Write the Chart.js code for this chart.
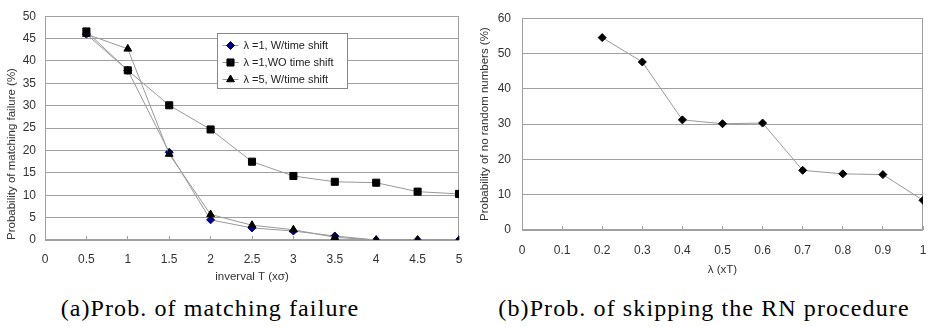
<!DOCTYPE html>
<html>
<head>
<meta charset="utf-8">
<script src="https://cdn.jsdelivr.net/npm/chart.js@4.4.1/dist/chart.umd.min.js"></script>
<style>
  body { margin: 0; background: #fff; width: 929px; height: 327px; position: relative; overflow: hidden; }
  .box { position: absolute; top: 0; height: 285px; }
  #boxA { left: 0; width: 465px; }
  #boxB { left: 465px; width: 464px; }
  .cap { position: absolute; top: 296px; width: 440px; text-align: center; white-space: nowrap;
         font-family: 'Liberation Serif', 'DejaVu Serif', serif; font-size: 24px; line-height: 24px;
         letter-spacing: 1.1px; color: #000; }
</style>
</head>
<body>
<div class="box" id="boxA"><canvas id="chartA"></canvas></div>
<div class="box" id="boxB"><canvas id="chartB"></canvas></div>
<div class="cap" style="left:-10px">(a)Prob. of matching failure</div>
<div class="cap" style="left:484px">(b)Prob. of skipping the RN procedure</div>
<script>
// (a) matching failure vs interval T
const intervalT = [0.5, 1, 1.5, 2, 2.5, 3, 3.5, 4, 4.5, 5];
const failLambda1W = [46.0, 37.9, 19.6, 4.5, 2.7, 2.0, 0.9, 0, 0, 0];
const failLambda1WO = [46.6, 37.9, 30.1, 24.7, 17.5, 14.3, 13.0, 12.8, 10.8, 10.3];
const failLambda5W = [46.0, 42.7, 19.2, 5.7, 3.3, 2.3, 0.6, 0, 0, 0];
const seriesLabelsA = ['\u03bb =1, W/time shift', '\u03bb =1,WO time shift', '\u03bb =5, W/time shift'];
const xTicksA = [0, 0.5, 1, 1.5, 2, 2.5, 3, 3.5, 4, 4.5, 5];
const yTicksA = [0, 5, 10, 15, 20, 25, 30, 35, 40, 45, 50];

// (b) skipping the RN procedure vs lambda
const lambdaT = [0.2, 0.3, 0.4, 0.5, 0.6, 0.7, 0.8, 0.9, 1];
const noRandom = [54.5, 47.6, 31.2, 30.1, 30.3, 16.9, 15.9, 15.7, 8.4];
const xTicksB = [0, 0.1, 0.2, 0.3, 0.4, 0.5, 0.6, 0.7, 0.8, 0.9, 1];
const yTicksB = [0, 10, 20, 30, 40, 50, 60];

const tickFont = { family: "'Liberation Sans', Arial, sans-serif", size: 12 };
const titleFont = { family: "'Liberation Sans', Arial, sans-serif", size: 11.5 };
const textColor = '#333';
const gridColor = '#a0a0a0';
const lineColor = '#999';

const toPoints = (xs, ys) => xs.map((x, i) => ({ x: x, y: ys[i] }));

// grey frame round the plot area
const plotFrame = {
    id: 'plotFrame',
    beforeDatasetsDraw(chart) {
        const { ctx, chartArea: a } = chart;
        ctx.save();
        ctx.strokeStyle = gridColor;
        ctx.lineWidth = 1;
        ctx.strokeRect(Math.round(a.left) + 0.5, Math.round(a.top) + 0.5,
            Math.round(a.width) - 1, Math.round(a.height) - 1);
        ctx.restore();
    }
};

// boxed legend inside the plot, like the spreadsheet one
const boxLegend = {
    id: 'boxLegend',
    afterDatasetsDraw(chart, args, opts) {
        const { ctx, chartArea } = chart;
        const x = Math.round(chartArea.left + opts.dx) + 0.5;
        const y = Math.round(chartArea.top + opts.dy) + 0.5;
        ctx.save();
        ctx.fillStyle = '#fff';
        ctx.fillRect(x, y, opts.w, opts.h);
        ctx.strokeStyle = '#888';
        ctx.lineWidth = 1;
        ctx.strokeRect(x, y, opts.w, opts.h);
        ctx.font = "11px 'Liberation Sans', Arial, sans-serif";
        ctx.textBaseline = 'middle';
        chart.data.datasets.forEach((ds, i) => {
            const cy = y + opts.rowTop + i * opts.rowGap;
            ctx.strokeStyle = ds.borderColor;
            ctx.beginPath();
            ctx.moveTo(x + 5, cy);
            ctx.lineTo(x + 21, cy);
            ctx.stroke();
            ctx.fillStyle = ds.pointBackgroundColor;
            ctx.strokeStyle = ds.pointBorderColor;
            Chart.helpers.drawPoint(ctx, { pointStyle: ds.pointStyle, radius: ds.pointRadius, borderWidth: 1, rotation: 0 }, x + 13, cy);
            ctx.fillStyle = '#222';
            ctx.fillText(ds.label, x + 26, cy);
        });
        ctx.restore();
    }
};

function lineSet(label, data, style, radius, color, order) {
    return {
        label: label,
        data: data,
        borderColor: lineColor,
        borderWidth: 1,
        pointStyle: style,
        pointRadius: radius,
        pointBackgroundColor: color,
        pointBorderColor: color,
        pointBorderWidth: 1,
        tension: 0,
        order: order
    };
}

function axes(xTicks, yTicks, opt) {
    return {
        x: {
            type: 'linear', min: xTicks[0], max: xTicks[xTicks.length - 1],
            afterBuildTicks: s => { s.ticks = xTicks.map(v => ({ value: v })); },
            // fixed band height; drop the label overhang so the plot keeps its width
            afterFit: s => { s.height = opt.xHeight; s.paddingLeft = 0; s.paddingRight = 0; },
            grid: { drawOnChartArea: false, color: gridColor, tickLength: -4 },
            border: { display: false },
            ticks: { autoSkip: false, maxRotation: 0, padding: opt.xPad, color: textColor, font: tickFont, callback: v => String(v) },
            title: { display: true, text: opt.xTitle, color: textColor, font: titleFont, padding: { top: 0, bottom: opt.xTitlePad } }
        },
        y: {
            type: 'linear', min: yTicks[0], max: yTicks[yTicks.length - 1],
            afterBuildTicks: s => { s.ticks = yTicks.map(v => ({ value: v })); },
            afterFit: s => { s.width = opt.yWidth; },
            grid: { color: gridColor, drawTicks: false },
            border: { display: false },
            ticks: { padding: opt.yPad, color: textColor, font: tickFont, callback: v => String(v) },
            title: { display: true, text: opt.yTitle, align: opt.yAlign, color: textColor,
                     font: titleFont, padding: { top: opt.yTitlePad, bottom: 0 } }
        }
    };
}

new Chart(document.getElementById('chartA'), {
    type: 'line',
    data: {
        datasets: [
            lineSet(seriesLabelsA[0], toPoints(intervalT, failLambda1W), 'rectRot', 4, '#000080', 2),
            lineSet(seriesLabelsA[1], toPoints(intervalT, failLambda1WO), 'rect', 5, '#000', 1),
            lineSet(seriesLabelsA[2], toPoints(intervalT, failLambda5W), 'triangle', 4.5, '#000', 0)
        ]
    },
    options: {
        responsive: true,
        maintainAspectRatio: false,
        animation: false,
        layout: { padding: { top: 8, right: 6, left: 0, bottom: 0 } },
        plugins: {
            legend: { display: false },
            tooltip: { enabled: false },
            boxLegend: { dx: 172, dy: 17, w: 130, h: 55, rowTop: 12, rowGap: 17 }
        },
        scales: axes(xTicksA, yTicksA, {
            xHeight: 45, xPad: 16, xTitle: 'inverval T (x\u03c3)', xTitlePad: 1,
            yWidth: 45, yPad: 9, yTitle: 'Probability of matching failure (%)', yAlign: 'start', yTitlePad: 5
        })
    },
    plugins: [plotFrame, boxLegend]
});

new Chart(document.getElementById('chartB'), {
    type: 'line',
    data: {
        datasets: [
            lineSet('no random numbers', toPoints(lambdaT, noRandom), 'rectRot', 4, '#000', 0)
        ]
    },
    options: {
        responsive: true,
        maintainAspectRatio: false,
        animation: false,
        layout: { padding: { top: 7, right: 6, left: 0, bottom: 0 } },
        plugins: { legend: { display: false }, tooltip: { enabled: false } },
        scales: axes(xTicksB, yTicksB, {
            xHeight: 55, xPad: 17, xTitle: '\u03bb (xT)', xTitlePad: 8,
            yWidth: 57, yPad: 11, yTitle: 'Probability of no random numbers (%)', yAlign: 'center', yTitlePad: 13
        })
    },
    plugins: [plotFrame]
});
</script>
</body>
</html>
